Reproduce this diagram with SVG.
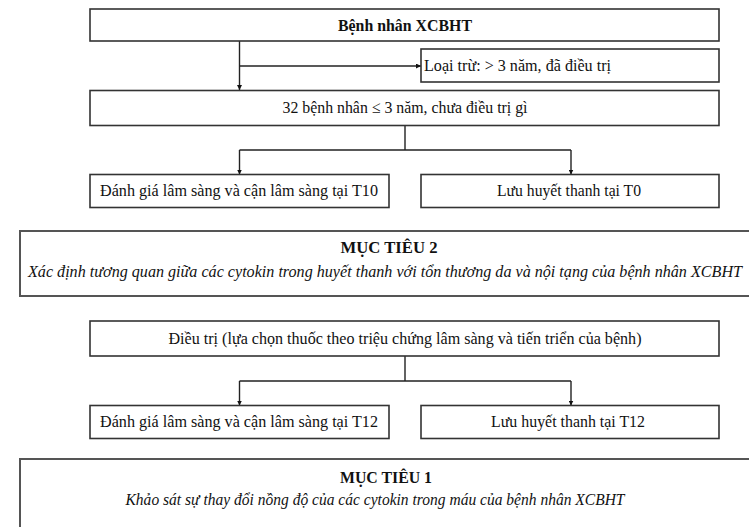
<svg xmlns="http://www.w3.org/2000/svg" width="749" height="527" viewBox="0 0 749 527">
<defs>
<marker id="arr" viewBox="0 0 10 10" refX="10" refY="5" markerWidth="5" markerHeight="5" markerUnits="userSpaceOnUse" orient="auto">
<path d="M0,0 L10,5 L0,10 Z" fill="#111"/>
</marker>
<style>
.box{fill:#fff;stroke:#333;stroke-width:1.6}
.big{fill:#fff;stroke:#555;stroke-width:2}
.t{font-family:"Liberation Serif","Times New Roman",serif;font-size:17px;fill:#111}
.c{text-anchor:middle}
.b{font-weight:bold}
.i{font-style:italic}
.s16{font-size:16px}
.ln{fill:none;stroke:#222;stroke-width:1.4}
</style>
</defs>
<rect width="749" height="527" fill="#fff"/>
<g id="connectors">
<path class="ln" d="M239.5 41 V90" marker-end="url(#arr)"/>
<path class="ln" d="M239.5 66 H421" marker-end="url(#arr)"/>
<path class="ln" d="M405 125.5 V150 M239.5 150 H571"/>
<path class="ln" d="M239.5 150 V174.5" marker-end="url(#arr)"/>
<path class="ln" d="M571 150 V174.5" marker-end="url(#arr)"/>
<path class="ln" d="M405 356 V381 M239.5 381 H571"/>
<path class="ln" d="M239.5 381 V405.5" marker-end="url(#arr)"/>
<path class="ln" d="M571 381 V405.5" marker-end="url(#arr)"/>
</g>
<g id="n1">
<rect class="box" x="90" y="9" width="629" height="32"/>
<text class="t c b" x="405" y="31" textLength="134" lengthAdjust="spacingAndGlyphs">Bệnh nhân XCBHT</text>
</g>
<g id="n2">
<rect class="box" x="421" y="49" width="298" height="33"/>
<text class="t" x="424" y="71" textLength="187" lengthAdjust="spacingAndGlyphs">Loại trừ: &gt; 3 năm, đã điều trị</text>
</g>
<g id="n3">
<rect class="box" x="90" y="90.5" width="629" height="35"/>
<text class="t c" x="405" y="113" textLength="245" lengthAdjust="spacingAndGlyphs">32 bệnh nhân ≤ 3 năm, chưa điều trị gì</text>
</g>
<g id="n4">
<rect class="box" x="90" y="174.5" width="299" height="33"/>
<text class="t c" x="239" y="196" textLength="278" lengthAdjust="spacingAndGlyphs">Đánh giá lâm sàng và cận lâm sàng tại T10</text>
</g>
<g id="n5">
<rect class="box" x="421" y="174.5" width="298" height="33"/>
<text class="t c" x="569" y="196" textLength="144" lengthAdjust="spacingAndGlyphs">Lưu huyết thanh tại T0</text>
</g>
<g id="n6">
<rect class="big" x="20" y="231" width="740" height="65"/>
<text class="t c b" x="389" y="253" textLength="97" lengthAdjust="spacingAndGlyphs">MỤC TIÊU 2</text>
<text class="t c i s16" x="385" y="277" textLength="714" lengthAdjust="spacingAndGlyphs">Xác định tương quan giữa các cytokin trong huyết thanh với tổn thương da và nội tạng của bệnh nhân XCBHT</text>
</g>
<g id="n7">
<rect class="box" x="90" y="321" width="629" height="35"/>
<text class="t c" x="405" y="344" textLength="473" lengthAdjust="spacingAndGlyphs">Điều trị (lựa chọn thuốc theo triệu chứng lâm sàng và tiến triển của bệnh)</text>
</g>
<g id="n8">
<rect class="box" x="90" y="405.5" width="299" height="33"/>
<text class="t c" x="239" y="427" textLength="278" lengthAdjust="spacingAndGlyphs">Đánh giá lâm sàng và cận lâm sàng tại T12</text>
</g>
<g id="n9">
<rect class="box" x="421" y="405.5" width="298" height="33"/>
<text class="t c" x="568" y="427" textLength="154" lengthAdjust="spacingAndGlyphs">Lưu huyết thanh tại T12</text>
</g>
<g id="n10">
<rect class="big" x="20" y="459" width="740" height="80"/>
<text class="t c b" x="386" y="483" textLength="92" lengthAdjust="spacingAndGlyphs">MỤC TIÊU 1</text>
<text class="t c i" x="375" y="505" textLength="499" lengthAdjust="spacingAndGlyphs">Khảo sát sự thay đổi nồng độ của các cytokin trong máu của bệnh nhân XCBHT</text>
</g>
</svg>
